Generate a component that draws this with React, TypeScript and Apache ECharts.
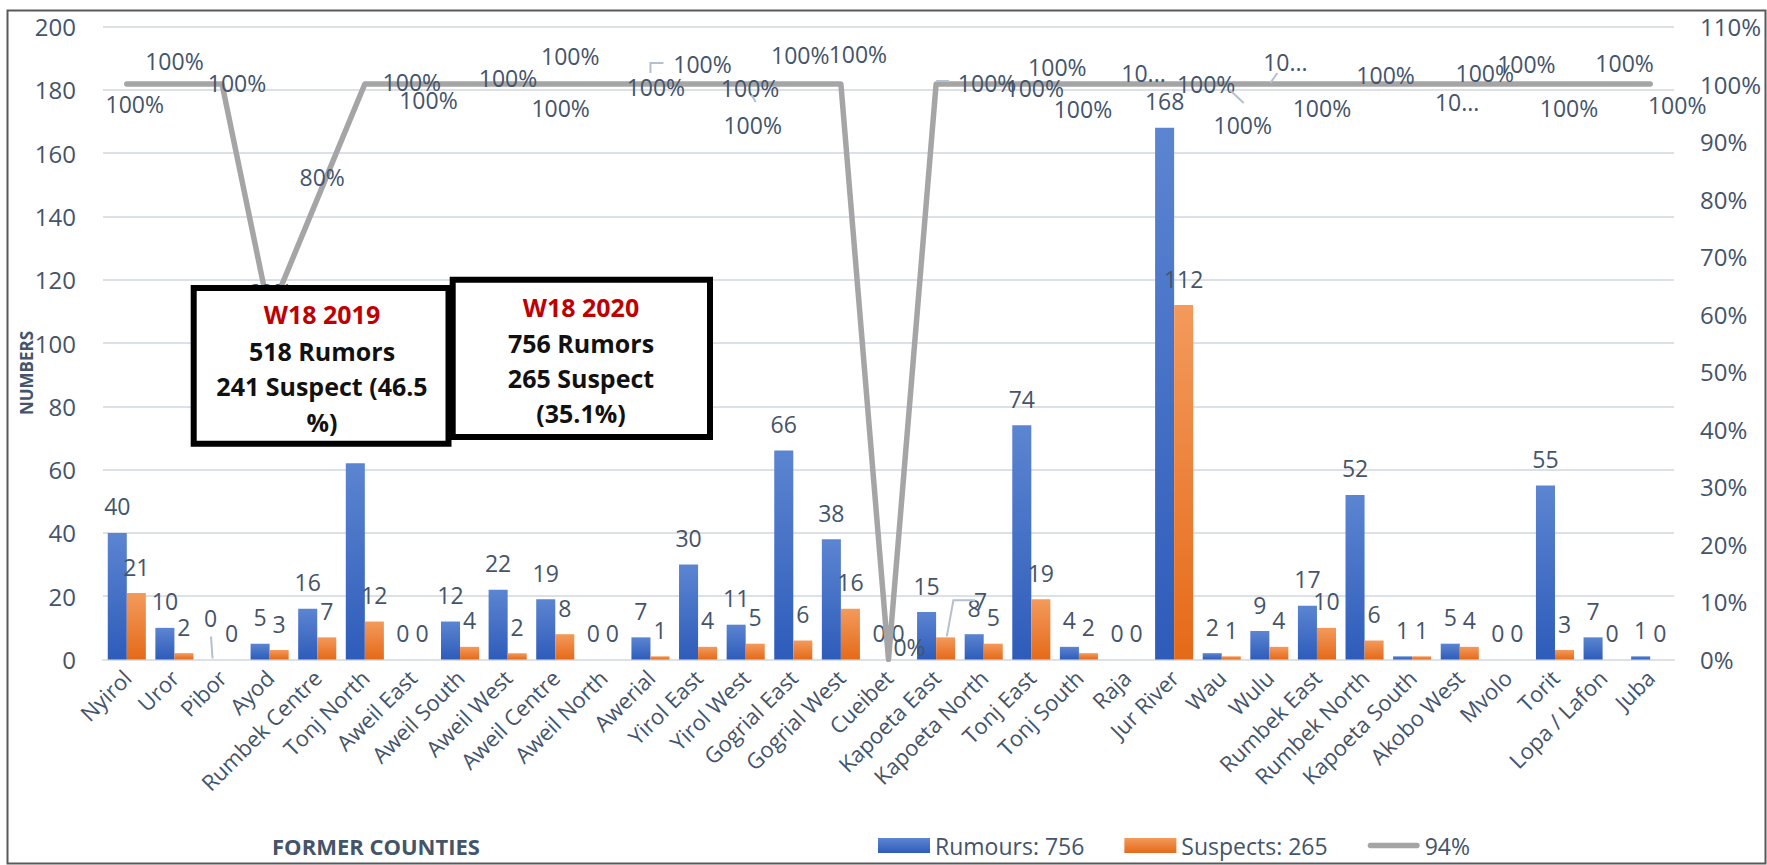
import React, { useEffect, useRef } from "react";
import * as echarts from "echarts";

// Former counties along the category axis
const categories = [
  "Nyirol", "Uror", "Pibor", "Ayod", "Rumbek Centre", "Tonj North", "Aweil East",
  "Aweil South", "Aweil West", "Aweil Centre", "Aweil North", "Awerial", "Yirol East",
  "Yirol West", "Gogrial East", "Gogrial West", "Cueibet", "Kapoeta East", "Kapoeta North",
  "Tonj East", "Tonj South", "Raja", "Jur River", "Wau", "Wulu", "Rumbek East",
  "Rumbek North", "Kapoeta South", "Akobo West", "Mvolo", "Torit", "Lopa / Lafon", "Juba",
];

// Rumours reported per county (total 756)
const rumours = [
  40, 10, 0, 5, 16, 62, 0, 12, 22, 19, 0, 7, 30, 11, 66, 38, 0, 15, 8, 74, 4, 0, 168, 2, 9,
  17, 52, 1, 5, 0, 55, 7, 1,
];

// Suspect cases per county (total 265)
const suspects = [
  21, 2, 0, 3, 7, 12, 0, 4, 2, 8, 0, 1, 4, 5, 6, 16, 0, 7, 5, 19, 2, 0, 112, 1, 4, 10, 6, 1,
  4, 0, 3, 0, 0,
];

// Percentage of rumours verified per county (right axis)
const verifiedPct = [
  100, 100, 100, 60, 80, 100, 100, 100, 100, 100, 100, 100, 100, 100, 100, 100, 0, 100, 100,
  100, 100, 100, 100, 100, 100, 100, 100, 100, 100, 100, 100, 100, 100,
];

const leftTicks = { min: 0, max: 200, interval: 20 };
const rightTicks = { min: 0, max: 110, interval: 10 };

const seriesNames = ["Rumours: 756", "Suspects: 265", "94%"];

// Label placement for the percentage line (pixel shift from each point)
const lineLabelShift: [number, number][] = [
  [8, 20], [0, -23], [15, -1], [0, -22], [5, -22], [47, -2], [16, 16], [48, -6], [53, 24],
  [15, -28], [53, 3], [52, -20], [52, 4], [7, 41], [7, -29], [17, -30], [21, -13], [51, -1],
  [51, 4], [26, -17], [4, 25], [17, -11], [32, 0], [21, 41], [16, -22], [5, 24], [21, -9],
  [45, 18], [25, -11], [19, -20], [14, 24], [22, -21], [27, 21],
];
// Labels squeezed to "10..." where space ran out
const clippedLabels = new Set([21, 24, 27]);

const FONT = "'Open Sans', 'Noto Sans', sans-serif";
const TEXT = "#44546A";
const GRID = "#DCE1E8";
const LEADER = "#B4C0CE";

// thick rounded stroke for the line's legend key; the two bare moves pad its box vertically
const LINE_KEY =
  "path://M0,0 M0,15 M3,4.5 L55,4.5 A3,3 0 0 1 55,10.5 L3,10.5 A3,3 0 0 1 3,4.5 Z";

const blueFill = new echarts.graphic.LinearGradient(0, 0, 0, 1, [
  { offset: 0, color: "#5C85D1" },
  { offset: 1, color: "#2E5CBA" },
]);
const orangeFill = new echarts.graphic.LinearGradient(0, 0, 0, 1, [
  { offset: 0, color: "#F39A5C" },
  { offset: 1, color: "#E56A18" },
]);

function noteBox(
  x: number,
  y: number,
  w: number,
  h: number,
  cx: number,
  lines: { text: string; y: number; red?: boolean }[]
) {
  const items: any[] = [
    {
      type: "rect",
      z: 100,
      shape: { x, y, width: w, height: h },
      style: { fill: "#ffffff", stroke: "#000000", lineWidth: 6 },
    },
  ];
  lines.forEach((l) => {
    items.push({
      type: "text",
      z: 101,
      x: cx,
      y: l.y,
      style: {
        text: l.text,
        fill: l.red ? "#C00000" : "#111111",
        font: `bold 25px ${FONT}`,
        align: "center",
        verticalAlign: "middle",
      },
    });
  });
  return items;
}

export default function App() {
  const ref = useRef<HTMLDivElement>(null);

  useEffect(() => {
    if (!ref.current) return;
    const chart = echarts.init(ref.current, null, { renderer: "svg" });

    const option: any = {
      animation: false,
      backgroundColor: "#ffffff",
      textStyle: { fontFamily: FONT },
      grid: { left: 103, right: 93, top: 26.5, bottom: 205.5, containLabel: false },
      legend: {
        data: [
          { name: seriesNames[0], icon: "rect" },
          { name: seriesNames[1], icon: "rect" },
          { name: seriesNames[2], icon: LINE_KEY, itemStyle: { color: "#A5A5A5" } },
        ],
        left: 873,
        top: 829,
        itemWidth: 52,
        itemHeight: 15,
        itemGap: 40,
        textStyle: { fontSize: 23, color: TEXT, fontFamily: FONT },
      },
      xAxis: {
        type: "category",
        data: categories,
        axisTick: { show: false },
        axisLine: { lineStyle: { color: GRID, width: 2 } },
        axisLabel: {
          rotate: 45,
          interval: 0,
          fontSize: 22,
          color: TEXT,
          margin: 14,
          fontFamily: FONT,
        },
      },
      yAxis: [
        {
          type: "value",
          ...leftTicks,
          axisLine: { show: false },
          axisTick: { show: false },
          axisLabel: { fontSize: 24, color: TEXT, margin: 27, fontFamily: FONT },
          splitLine: { lineStyle: { color: GRID, width: 2 } },
        },
        {
          type: "value",
          position: "right",
          ...rightTicks,
          axisLine: { show: false },
          axisTick: { show: false },
          axisLabel: {
            fontSize: 24,
            color: TEXT,
            margin: 26,
            fontFamily: FONT,
            formatter: "{value}%",
          },
          splitLine: { show: false },
        },
      ],
      series: [
        {
          name: seriesNames[0],
          type: "bar",
          barGap: "0%",
          barCategoryGap: "20%",
          itemStyle: { color: blueFill },
          label: {
            show: true,
            position: "top",
            distance: 15,
            fontSize: 23,
            color: TEXT,
            fontFamily: FONT,
          },
          data: rumours.map((v, i) =>
            i === 2 ? { value: v, label: { offset: [-2, -15] } } : v
          ),
          z: 2,
        },
        {
          name: seriesNames[1],
          type: "bar",
          barGap: "0%",
          barCategoryGap: "20%",
          itemStyle: { color: orangeFill },
          label: {
            show: true,
            position: "top",
            distance: 15,
            fontSize: 23,
            color: TEXT,
            fontFamily: FONT,
          },
          data: suspects.map((v, i) =>
            i === 17 ? { value: v, label: { offset: [35, -10] } } : v
          ),
          z: 2,
        },
        {
          name: seriesNames[2],
          type: "line",
          yAxisIndex: 1,
          symbol: "circle",
          symbolSize: 1,
          showSymbol: true,
          itemStyle: { color: "#A5A5A5" },
          lineStyle: { color: "#A5A5A5", width: 5.5, cap: "round", join: "round" },
          label: {
            show: true,
            position: "inside",
            fontSize: 23,
            color: TEXT,
            fontFamily: FONT,
            formatter: "{c}%",
          },
          data: verifiedPct.map((v, i) => ({
            value: v,
            label: clippedLabels.has(i)
              ? { offset: lineLabelShift[i], formatter: "10..." }
              : { offset: lineLabelShift[i] },
          })),
          z: 3,
        },
      ],
    };

    chart.setOption(option);

    // pixel helpers on the chart's own scales
    const onLine = (i: number) =>
      chart.convertToPixel({ xAxisIndex: 0, yAxisIndex: 1 }, [categories[i], verifiedPct[i]]);
    const onBar = (i: number, v: number) =>
      chart.convertToPixel({ xAxisIndex: 0, yAxisIndex: 0 }, [categories[i], v]);

    const leader = (pts: number[][]) => ({
      type: "polyline",
      z: 50,
      shape: { points: pts },
      style: { stroke: LEADER, lineWidth: 2, fill: null },
    });
    const rel = (p: number[], d: number[][]) => d.map(([dx, dy]) => [p[0] + dx, p[1] + dy]);

    const leaders: any[] = [];
    leaders.push(leader(rel(onLine(11), [[0, -11], [0, -21], [13, -21]])));
    leaders.push(leader(rel(onLine(13), [[6, 11], [10, 18]])));
    leaders.push(leader(rel(onLine(17), [[0, -3], [13, -3]])));
    leaders.push(leader(rel(onLine(23), [[8, 6], [22, 19]])));
    leaders.push(leader(rel(onLine(24), [[1, -1], [8, -11]])));
    const piborBase = onBar(2, rumours[2]);
    leaders.push(leader(rel(piborBase, [[-9.5, -1], [-11, -23]])));
    const kapTop = onBar(17, suspects[17]);
    leaders.push(leader(rel(kapTop, [[10.7, -1], [17.3, -37], [39, -37]])));

    const graphic: any[] = [
      {
        type: "rect",
        z: 0,
        silent: true,
        shape: { x: 7.5, y: 10.5, width: 1758, height: 853 },
        style: { fill: null, stroke: "#595959", lineWidth: 2 },
      },
      ...leaders,
      ...noteBox(193.7, 288, 254.8, 155.7, 322, [
        { text: "W18 2019", y: 314, red: true },
        { text: "518 Rumors", y: 350.5 },
        { text: "241 Suspect (46.5", y: 385.5 },
        { text: "%)", y: 421.5 },
      ]),
      ...noteBox(452.7, 279.7, 257.3, 157.3, 581, [
        { text: "W18 2020", y: 306.7, red: true },
        { text: "756 Rumors", y: 343 },
        { text: "265 Suspect", y: 378 },
        { text: "(35.1%)", y: 413 },
      ]),
      {
        type: "text",
        z: 60,
        x: 26,
        y: 373,
        rotation: Math.PI / 2,
        style: {
          text: "NUMBERS",
          fill: TEXT,
          font: `bold 17px ${FONT}`,
          align: "center",
          verticalAlign: "middle",
        },
      },
      {
        type: "text",
        z: 60,
        x: 376,
        y: 846,
        style: {
          text: "FORMER COUNTIES",
          fill: TEXT,
          font: `bold 22px ${FONT}`,
          align: "center",
          verticalAlign: "middle",
        },
      },
    ];

    chart.setOption({ graphic });

    return () => chart.dispose();
  }, []);

  return (
    <div
      ref={ref}
      style={{
        position: "fixed",
        left: 0,
        top: 0,
        width: 1767,
        height: 865,
        background: "#ffffff",
      }}
    />
  );
}
